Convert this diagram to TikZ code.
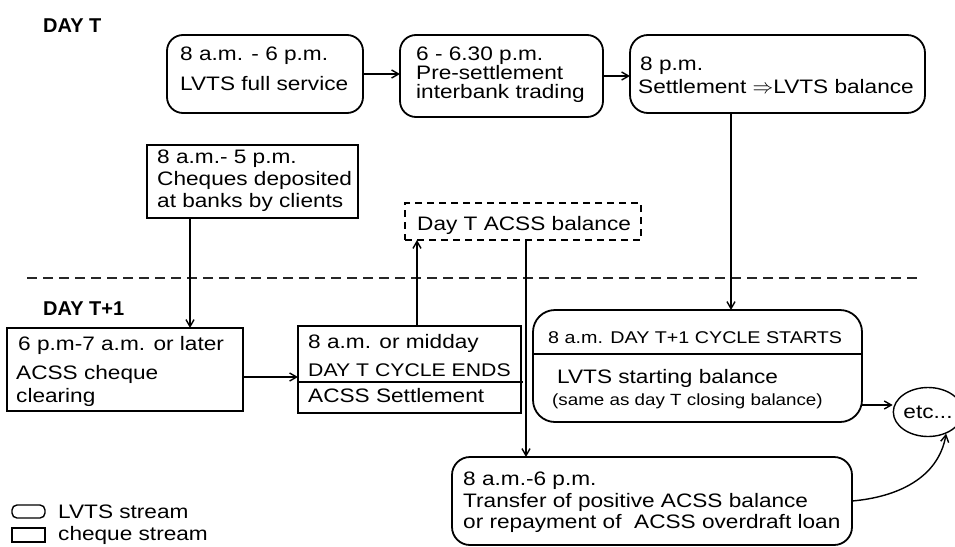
\documentclass[tikz,border=0pt]{standalone}
\usepackage{fontspec}
\setmainfont{Liberation Sans}[FakeStretch=1.16]
\newfontfamily\lblfont{Liberation Sans}
\usetikzlibrary{arrows.meta,shapes.geometric}
\begin{document}
\begin{tikzpicture}[x=1pt,y=-1pt,
  lv/.style={draw, line width=1.8pt, rounded corners=#1, anchor=north west, inner sep=0pt, outer sep=0pt},
  lv/.default=16pt,
  cq/.style={draw, line width=1.8pt, anchor=north west, inner sep=0pt, outer sep=0pt},
  dbox/.style={cq, line width=1.5pt, dash pattern=on 7pt off 5pt},
  t/.style={anchor=base west, inner sep=0pt, font=\fontsize{19.5}{23}\selectfont},
  lbl/.style={anchor=base west, inner sep=0pt, font=\lblfont\bfseries\fontsize{20}{24}\selectfont},
  arr/.style={-{Straight Barb[length=7pt,width=8pt]}, line width=1.4pt},
  sep/.style={line width=1.5pt, dash pattern=on 10pt off 6pt, black!85}
]
\useasboundingbox (0,0) rectangle (955,546);

% labels
\node[lbl] (L1) at (43,32) {DAY T};
\node[lbl] (L2) at (43,315) {DAY T+1};

% separator
\coordinate (sepL) at (27,278);
\coordinate (sepR) at (917,278);
\draw[sep] (sepL) -- (sepR);

% Day T boxes
\node[lv, minimum width=196pt, minimum height=78pt] (A) at (167,35) {};
\node[t] (A1) at (180,60) {8 a.m. - 6 p.m.};
\node[t] (A2) at (180,90) {LVTS full service};

\node[lv, minimum width=203pt, minimum height=82pt] (B) at (400,35) {};
\node[t] (B1) at (416,60) {6 - 6.30 p.m.};
\node[t] (B2) at (416,79) {Pre-settlement};
\node[t] (B3) at (416,98) {interbank trading};

\node[lv=18pt, minimum width=295pt, minimum height=78pt] (C) at (630,35) {};
\node[t] (C1) at (640,70) {8 p.m.};
\node[t] (C2) at (638,93) {Settlement $\Rightarrow$LVTS balance};

\node[cq, minimum width=211pt, minimum height=73pt] (Q) at (147,145) {};
\node[t] (Q1) at (157,163) {8 a.m.- 5 p.m.};
\node[t] (Q2) at (157,185) {Cheques deposited};
\node[t] (Q3) at (157,207) {at banks by clients};

\node[dbox, minimum width=236pt, minimum height=37pt] (S) at (405,203) {};
\node[t] (S1) at (417,230) {Day T ACSS balance};

% Day T+1 boxes
\node[cq, minimum width=236pt, minimum height=83pt] (D) at (7,328) {};
\node[t] (D1) at (18,350) {6 p.m-7 a.m. or later};
\node[t] (D2) at (16,379) {ACSS cheque};
\node[t] (D3) at (16,402) {clearing};

\node[cq, minimum width=223pt, minimum height=87pt] (E) at (298,326) {};
\coordinate (eY) at (0,382);
\draw[line width=1.4pt] (E.west |- eY) -- ([xshift=2pt]E.east |- eY);
\node[t] (E1) at (308,348) {8 a.m. or midday};
\node[t, font=\fontsize{18.3}{22}\selectfont] (E2) at (308,376) {DAY T CYCLE ENDS};
\node[t] (E3) at (308,402) {ACSS Settlement};

\node[lv=22pt, minimum width=329pt, minimum height=112pt] (G) at (533,310) {};
\coordinate (gY) at (0,354);
\draw[line width=1.4pt] (G.west |- gY) -- (G.east |- gY);
\node[t, font=\fontsize{17}{20}\selectfont] (G1) at (548,343) {8 a.m. DAY T+1 CYCLE STARTS};
\node[t] (G2) at (557,383) {LVTS starting balance};
\node[t, font=\fontsize{16.2}{20}\selectfont] (G3) at (552,405) {(same as day T closing balance)};

\node[draw, ellipse, line width=1.4pt, minimum width=60pt, minimum height=49pt, inner sep=0pt,
      font=\fontsize{19.5}{23}\selectfont] (etc) at (928,412) {etc...};

\node[lv=18pt, minimum width=400pt, minimum height=88pt] (F) at (452,457) {};
\node[t] (F1) at (463,485) {8 a.m.-6 p.m.};
\node[t] (F2) at (463,507) {Transfer of positive ACSS balance};
\node[t] (F3) at (463,528) {or repayment of\ \ ACSS overdraft loan};

% legend
\node[lv=5pt, line width=1.4pt, minimum width=33pt, minimum height=13pt] (k1) at (12,505) {};
\node[t] (k1t) at (58,518) {LVTS stream};
\node[cq, line width=1.4pt, minimum width=33pt, minimum height=14pt] (k2) at (12,528) {};
\node[t] (k2t) at (58,540) {cheque stream};

% connectors
\coordinate (cx) at (731,0);
\coordinate (qx) at (190,0);
\coordinate (ex) at (417,0);
\coordinate (sx) at (526,0);
\coordinate (dy) at (0,377);
\coordinate (gy) at (0,405);
\draw[arr] (A.east) -- (A.east -| B.west);
\draw[arr] (B.east) -- (B.east -| C.west);
\draw[arr] (C.south -| cx) -- (G.north -| cx);
\draw[arr] (Q.south -| qx) -- (D.north -| qx);
\draw[arr] (E.north -| ex) -- (S.south -| ex);
\draw[arr] (S.south -| sx) -- (F.north -| sx);
\draw[arr] (D.east |- dy) -- (E.west |- dy);
\draw[arr] (G.east |- gy) -- (etc.west |- gy);
\draw[arr] (F.east) to[out=5, in=-100] (etc.-50);
\end{tikzpicture}
\end{document}
